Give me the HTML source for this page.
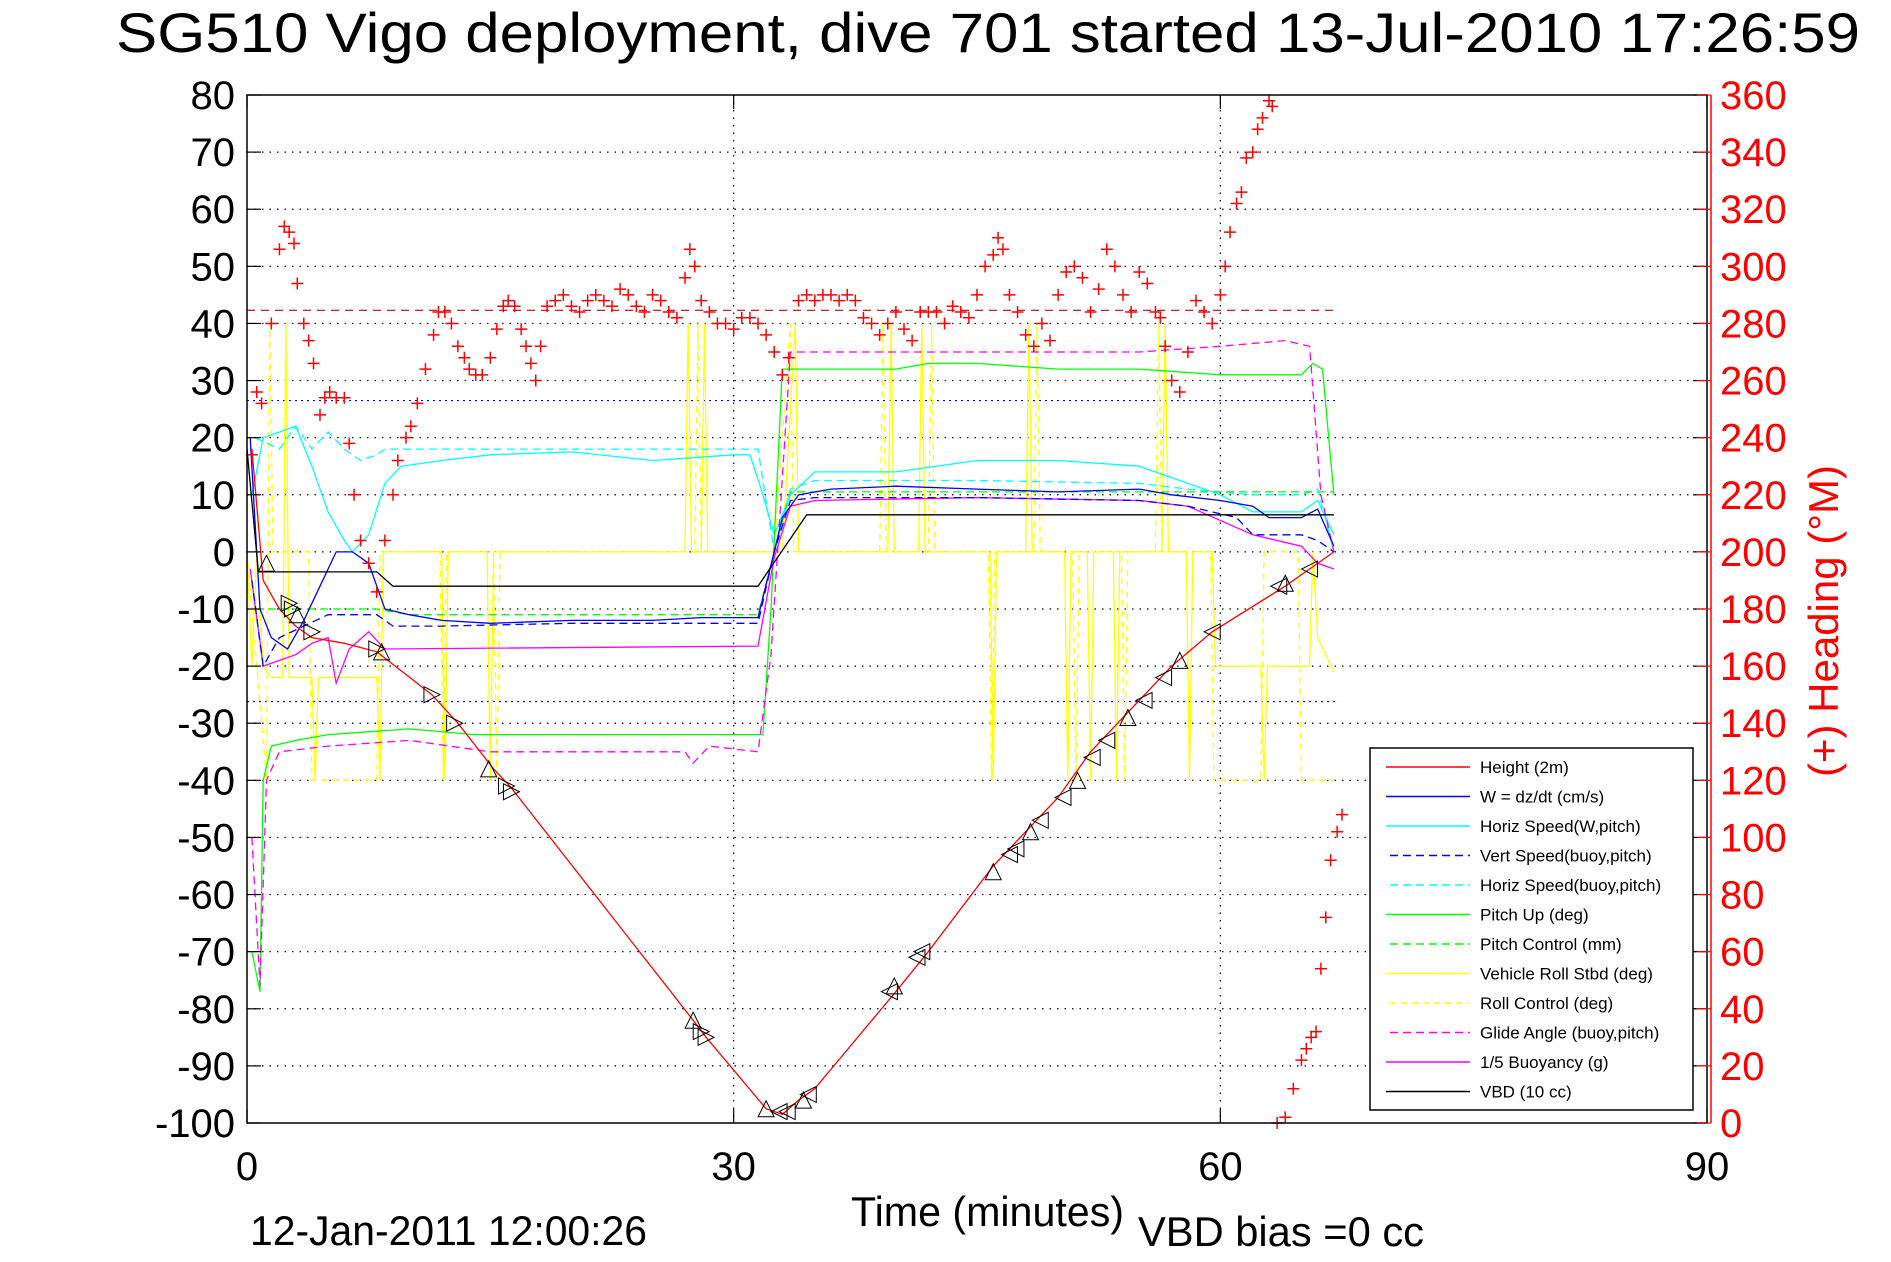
<!DOCTYPE html>
<html><head><meta charset="utf-8"><style>
body{margin:0;background:#fff;width:1891px;height:1262px;overflow:hidden}
svg{display:block;font-family:"Liberation Sans",sans-serif}
</style></head><body>
<svg id="chart" width="1891" height="1262" viewBox="0 0 1891 1262" xmlns="http://www.w3.org/2000/svg">
<text x="116" y="52" font-size="56" textLength="1744" lengthAdjust="spacingAndGlyphs">SG510 Vigo deployment, dive 701 started 13-Jul-2010 17:26:59</text>
<text x="851" y="1226" font-size="42" textLength="273" lengthAdjust="spacingAndGlyphs">Time (minutes)</text>
<text x="1138" y="1246" font-size="42" textLength="286" lengthAdjust="spacingAndGlyphs">VBD bias =0 cc</text>
<text x="250" y="1245" font-size="42" textLength="397" lengthAdjust="spacingAndGlyphs">12-Jan-2011 12:00:26</text>
<text transform="translate(1838,621) rotate(-90)" text-anchor="middle" font-size="42" fill="#ff0000">(+) Heading (°M)</text>
<g id="grid"></g><g id="series"></g><g id="axes"></g><g id="legend"></g>
</svg>
<script>
const xTicks=[0,30,60,90];
const yTicks=[80,70,60,50,40,30,20,10,0,-10,-20,-30,-40,-50,-60,-70,-80,-90,-100];
const hTicks=[360,340,320,300,280,260,240,220,200,180,160,140,120,100,80,60,40,20,0];
const height2m=[[0.3,18],[1,-5],[2,-10],[3,-13],[4,-15],[6,-16],[8,-17.5],[11.4,-25],[13,-30],[15.2,-38],[16.2,-41],[27.5,-82],[28.3,-85],[32,-97.5],[33,-98.5],[34,-96],[35,-94],[40,-77],[42,-70],[46,-55],[48,-49],[50,-43],[52,-35],[55,-26],[57,-20],[59.5,-14],[64,-6],[65.5,-3],[67,0]];
const triMarks=[[1.2,-2],[2.6,-9],[2.8,-10],[3.1,-11],[4,-14],[8,-17],[8.3,-17.5],[11.4,-25],[12.8,-30],[14.9,-38],[16,-41],[16.3,-42],[27.5,-82],[28,-84],[28.3,-85],[32,-97.5],[32.8,-98],[33.3,-98],[34.3,-96],[34.6,-95],[39.6,-77],[39.9,-76],[41.3,-71],[41.6,-70],[46,-56],[47,-53],[47.4,-52],[48.3,-49],[48.9,-47],[50.3,-43],[51.2,-40],[52.1,-36],[53,-33],[54.3,-29],[55.3,-26],[56.5,-22],[57.5,-19],[59.5,-14],[63.6,-6],[64,-5.5],[65.5,-3]];
const wSpeed=[[0.2,20],[0.8,-10],[1.5,-15],[2.5,-17],[3.5,-12],[4.5,-6],[5.5,0],[6.5,0],[7.5,-2],[8.5,-10],[10,-11],[12,-12],[15,-12.5],[20,-12],[25,-12],[28,-11.5],[31.5,-11.5],[32.5,0],[33,6],[34,10],[36,11],[40,11.5],[45,11],[50,10.5],[55,11],[57,10],[60,9],[62,8],[63,6],[65,6],[66,7.5],[67,1]];
const vertBuoy=[[0.3,-5],[1,-20],[2,-15],[5,-11],[8,-11],[9,-13],[12,-13],[20,-12.5],[31.5,-12.5],[32.5,0],[33.5,9],[35,9.5],[45,9.5],[55,9],[58,8],[61,6],[62,3],[65,3],[66,2],[67,0]];
const horizW=[[0.3,10],[1,20],[2,21],[3,22],[4,15],[5,7],[6,2],[6.5,0],[7.5,3],[8.5,12],[9.5,15],[12,16],[15,17],[20,17.5],[25,16],[30,17],[31,17],[31.7,11],[32.5,3],[33.5,10],[35,14],[40,14],[45,16],[50,16],[55,15],[57,13],[60,10],[62,7],[65,7],[66,9],[67,3]];
const horizBuoy=[[0.5,20],[2,18],[3,22],[4,18],[5,21],[6,18],[7,16],[8,17],[8.5,18],[31.5,18],[32.5,0],[33.5,11],[35,12.5],[45,12.5],[55,12],[58,11],[62,10],[65,10],[66,11],[67,0]];
const pitchUp=[[0.3,-70],[0.8,-77],[1,-40],[1.5,-34],[3,-33],[5,-32],[10,-31],[14,-32],[20,-32],[28,-32],[31.8,-32],[32.3,-10],[33,32],[35,32],[40,32],[42,33],[45,33],[50,32],[55,32],[60,31],[65,31],[65.7,33],[66.3,32],[67,10]];
const pitchCtl=[[0.5,-10],[8,-10],[10,-11],[31.5,-11],[32.5,0],[33.5,10.5],[67,10.5]];
const rollStbd=[[0,0],[0.3,-20],[0.6,0],[1,-20],[1.5,-22],[2.2,-22],[2.4,40],[2.6,-22],[4,-22],[4.2,-40],[4.4,-22],[8,-22],[8.2,-40],[8.4,0],[12,0],[12.2,-40],[12.4,0],[14.8,0],[15,-40],[15.2,0],[27,0],[27.2,40],[27.4,0],[28,0],[28.2,40],[28.4,0],[32,0],[33,0],[33.8,40],[34,0],[39.5,0],[39.7,40],[39.9,0],[41.4,0],[41.6,40],[41.8,0],[45.8,0],[46,-40],[46.2,0],[48,0],[48.2,40],[48.4,0],[50.4,0],[50.6,-40],[50.8,0],[51.8,0],[52,-40],[52.2,0],[53.4,0],[53.6,-40],[53.8,0],[56.4,0],[56.6,40],[56.8,0],[57.9,0],[58.1,-40],[58.3,0],[59.5,0],[59.7,-20],[62.5,-20],[62.7,-40],[62.9,-20],[65.5,-20],[65.7,0],[66,-15],[67,-21]];
const rollCtl=[[0,0],[1.2,-40],[1.4,40],[1.6,0],[3.8,0],[4,-40],[8,-40],[8.2,0],[11.9,0],[12.1,-40],[12.3,0],[15.2,0],[15.4,-40],[15.6,0],[27.6,0],[27.8,40],[28,0],[32.5,0],[33.5,40],[33.7,0],[39,0],[39.2,40],[39.4,0],[42,0],[42.2,40],[42.4,0],[45.7,0],[45.9,-40],[46.1,0],[48.5,0],[48.7,40],[48.9,0],[50.9,0],[51.1,-40],[51.3,0],[53.9,0],[54.1,-40],[54.3,0],[56,0],[56.2,40],[56.4,0],[59.4,0],[59.6,-40],[62.5,-40],[62.7,0],[64.8,0],[65,-40],[67,-40]];
const glideAngle=[[0.3,-50],[0.8,-76],[1.2,-40],[2,-35],[5,-34],[10,-33],[15,-35],[27,-35],[27.5,-37],[28.5,-34],[31.5,-35],[32.3,-18],[33.5,35],[40,35],[45,35],[50,35],[55,35],[60,36],[64,37],[65.5,36],[66.2,10],[67,0]];
const buoyancy=[[0.2,-3],[1,-20],[2,-19],[3,-18],[4,-16],[5,-15],[5.5,-23],[6.3,-17],[7.5,-14],[8.5,-17],[31.5,-16.5],[32.5,-1],[33.5,8],[35,9],[45,9.5],[55,9],[58,8],[62,3],[65,1],[66,-2],[67,-3]];
const vbd=[[0,18],[0.7,-3.5],[8,-3.5],[9,-6],[31.5,-6],[34.5,6.5],[67,6.5]];
const headingT=[0.3,0.6,0.9,1.5,2,2.3,2.6,2.9,3.1,3.5,3.8,4.1,4.5,4.8,5.1,5.5,6,6.3,6.6,7,7.5,8,8.5,9,9.3,9.8,10.1,10.5,11,11.5,11.8,12.2,12.6,13,13.4,13.7,14.1,14.5,15,15.4,15.8,16.1,16.5,16.9,17.2,17.5,17.8,18.1,18.5,19,19.5,20,20.5,21,21.5,22,22.5,23,23.5,24,24.5,25,25.5,26,26.5,27,27.3,27.6,28,28.5,29,29.5,30,30.5,31,31.5,32,32.5,33,33.4,34,34.5,35,35.5,36,36.5,37,37.5,38,38.5,39,39.5,40,40.5,41,41.5,42,42.5,43,43.5,44,44.5,45,45.5,46,46.3,46.6,47,47.5,48,48.5,49,49.5,50,50.5,51,51.5,52,52.5,53,53.5,54,54.5,55,55.5,56,56.3,56.6,57,57.5,58,58.5,59,59.5,60,60.3,60.6,61,61.3,61.6,62,62.3,62.6,63,63.2,63.5,64,64.5,65,65.3,65.6,65.9,66.2,66.5,66.8,67.2,67.5];
const headingV=[234,256,252,280,306,314,312,308,294,280,274,266,248,254,256,254,254,238,220,204,196,186,204,220,232,240,244,252,264,276,284,284,280,272,268,264,262,262,268,278,286,288,286,278,272,266,260,272,286,288,290,286,284,288,290,288,286,292,290,286,284,290,288,284,282,296,306,300,288,284,280,280,278,282,282,280,276,270,262,268,288,290,288,290,290,288,290,288,282,280,276,280,284,278,274,284,284,284,280,286,284,282,290,300,304,310,306,290,284,276,272,280,274,290,298,300,296,284,292,306,300,290,284,298,294,284,282,272,260,256,270,288,284,280,290,300,312,322,326,338,340,348,352,358,356,0,2,12,22,26,30,32,54,72,92,102,108,86,90];
const refLines=[{v:42.3,c:'#cc0000',d:'8,6',n:'mean-heading-line'},{v:26.5,c:'#0000ff',d:'2,4',n:'upper-limit-line'},{v:-26.2,c:'#0000ff',d:'2,4',n:'lower-limit-line'}];

const L=247,R=1707,T=95,B=1123,NS='http://www.w3.org/2000/svg';
const X=t=>L+t*(R-L)/90, Y=v=>B-(v+100)*(B-T)/180, YH=h=>B-h*(B-T)/360;
function mk(tag,attrs,parent){const e=document.createElementNS(NS,tag);for(const k in attrs)e.setAttribute(k,attrs[k]);parent.appendChild(e);return e;}
const grid=document.getElementById('grid'),ser=document.getElementById('series'),ax=document.getElementById('axes'),leg=document.getElementById('legend');
yTicks.forEach(v=>{if(v===80||v===-100)return;const l=mk('line',{x1:L,x2:R,y1:Y(v),y2:Y(v),stroke:'#000','stroke-width':1.2,'stroke-dasharray':'1.5,6'},grid);

});
[30,60].forEach(t=>{const l=mk('line',{x1:X(t),x2:X(t),y1:T,y2:B,stroke:'#000','stroke-width':1.2,'stroke-dasharray':'1.5,6'},grid);

});
refLines.forEach(r=>{const l=mk('line',{x1:X(0),x2:X(67.2),y1:Y(r.v),y2:Y(r.v),stroke:r.c,'stroke-width':1.2,'stroke-dasharray':r.d},ser);

});
const lines=[
{d:rollCtl,c:'#ffff00',dash:'6,5',n:'roll-control-line',lab:'Roll Control (deg)'},
{d:rollStbd,c:'#ffff00',dash:'',n:'vehicle-roll-line',lab:'Vehicle Roll Stbd (deg)'},
{d:horizBuoy,c:'#00ffff',dash:'8,5',n:'horiz-speed-buoy-line',lab:'Horiz Speed(buoy,pitch)'},
{d:horizW,c:'#00ffff',dash:'',n:'horiz-speed-w-line',lab:'Horiz Speed(W,pitch)'},
{d:pitchCtl,c:'#00ff00',dash:'8,5',n:'pitch-control-line',lab:'Pitch Control (mm)'},
{d:pitchUp,c:'#00ff00',dash:'',n:'pitch-up-line',lab:'Pitch Up (deg)'},
{d:glideAngle,c:'#ff00ff',dash:'8,5',n:'glide-angle-line',lab:'Glide Angle (buoy,pitch)'},
{d:buoyancy,c:'#ff00ff',dash:'',n:'buoyancy-line',lab:'1/5 Buoyancy (g)'},
{d:vertBuoy,c:'#0000ff',dash:'8,5',n:'vert-speed-buoy-line',lab:'Vert Speed(buoy,pitch)'},
{d:wSpeed,c:'#0000ff',dash:'',n:'w-speed-line',lab:'W = dz/dt (cm/s)'},
{d:vbd,c:'#000000',dash:'',n:'vbd-line',lab:'VBD (10 cc)'},
{d:height2m,c:'#ff0000',dash:'',n:'height-line',lab:'Height (2m)'}];
lines.forEach(s=>{const p=mk('polyline',{points:s.d.map(q=>X(q[0]).toFixed(1)+','+Y(q[1]).toFixed(1)).join(' '),fill:'none',stroke:s.c,'stroke-width':1.3,'stroke-dasharray':s.dash},ser);

});
triMarks.forEach((q,i)=>{const x=X(q[0]),y=Y(q[1]),s=8;const pts=(i%3===0)?[[x-s,y+s],[x+s,y+s],[x,y-s]]:(q[0]<32.5?[[x+s,y],[x-s,y-s],[x-s,y+s]]:[[x-s,y],[x+s,y-s],[x+s,y+s]]);
const m=mk('polygon',{points:pts.map(p=>p.join(',')).join(' '),fill:'none',stroke:'#000','stroke-width':1},ser);

});
headingT.forEach((t,i)=>{const x=X(t),y=YH(headingV[i]);const m=mk('path',{d:`M${x-6},${y}H${x+6}M${x},${y-6}V${y+6}`,stroke:'#ff0000','stroke-width':1.5},ser);

});
const box=mk('rect',{x:L,y:T,width:R-L,height:B-T,fill:'none',stroke:'#000','stroke-width':1.5},ax);


const ra=mk('line',{x1:1711,x2:1711,y1:T,y2:B,stroke:'#ff0000','stroke-width':1.5},ax);


yTicks.forEach(v=>{mk('line',{x1:L,x2:L+14,y1:Y(v),y2:Y(v),stroke:'#000','stroke-width':1.2},ax);mk('line',{x1:R-14,x2:R,y1:Y(v),y2:Y(v),stroke:'#000','stroke-width':1.2},ax);
const t=mk('text',{x:235,y:Y(v)+14,'font-size':40,'text-anchor':'end'},ax);t.textContent=v;

});
hTicks.forEach(h=>{mk('line',{x1:1697,x2:1711,y1:YH(h),y2:YH(h),stroke:'#ff0000','stroke-width':1.2},ax);
const t=mk('text',{x:1720,y:YH(h)+14,'font-size':40,fill:'#ff0000'},ax);t.textContent=h;

});
xTicks.forEach(v=>{mk('line',{x1:X(v),x2:X(v),y1:B,y2:B-14,stroke:'#000','stroke-width':1.2},ax);mk('line',{x1:X(v),x2:X(v),y1:T,y2:T+14,stroke:'#000','stroke-width':1.2},ax);
const t=mk('text',{x:X(v),y:1180,'font-size':40,'text-anchor':'middle'},ax);t.textContent=v;

});
const lb=mk('rect',{x:1370,y:748,width:323,height:362,fill:'#fff',stroke:'#000','stroke-width':1.5},leg);


const order=['height-line','w-speed-line','horiz-speed-w-line','vert-speed-buoy-line','horiz-speed-buoy-line','pitch-up-line','pitch-control-line','vehicle-roll-line','roll-control-line','glide-angle-line','buoyancy-line','vbd-line'];
order.forEach((n,i)=>{const s=lines.find(l=>l.n===n);const y=767+i*29.5;
const g=mk('g',{},leg);


mk('line',{x1:s.dash?1390:1386,x2:1470,y1:y,y2:y,stroke:s.c,'stroke-width':1.5,'stroke-dasharray':s.dash},g);
const t=mk('text',{x:1480,y:y+6,'font-size':17},g);t.textContent=s.lab;});
</script>
</body></html>
